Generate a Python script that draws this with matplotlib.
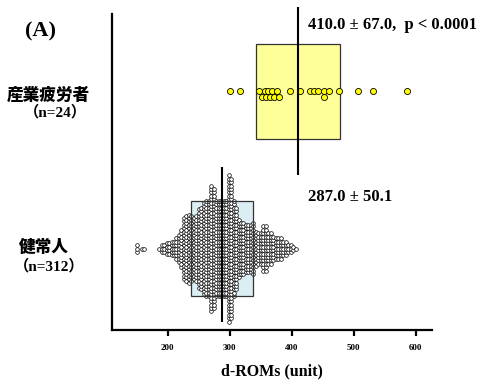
import matplotlib
matplotlib.use("Agg")
import matplotlib.pyplot as plt
import numpy as np
from matplotlib.patches import Rectangle

# ---------------------------------------------------------------------------
# Data
# ---------------------------------------------------------------------------
GROUP_LABELS = ["産業疲労者", "健常人"]
GROUP_N = ["（n=24）", "（n=312）"]
MEANS = [410.0, 287.0]
SDS = [67.0, 50.1]
STAT_TEXT = ["410.0 ± 67.0,  p < 0.0001", "287.0 ± 50.1"]

# individual values, 産業疲労者
fatigue_vals = [300, 316, 347, 352, 356, 359, 362, 365, 368, 372, 376, 380,
                397, 413, 429, 435, 442, 452, 452, 460, 476, 506, 531, 585]

# dot-plot columns, 健常人 (bin centre, dots in column)
healthy_bins = [150, 158, 162, 186, 190, 194, 198, 202, 206, 210, 214, 218,
                222, 226, 230, 234, 238, 242, 246, 250, 254, 258, 262, 266,
                270, 274, 278, 282, 286, 290, 294, 298, 302, 306, 310, 314,
                318, 322, 326, 330, 334, 338, 342, 346, 350, 354, 358, 362,
                366, 370, 374, 378, 382, 386, 390, 394, 398, 402, 406]
healthy_counts = [3, 1, 1, 1, 3, 3, 4, 4, 5, 5, 7, 9,
                  12, 19, 20, 21, 20, 19, 20, 24, 25, 28, 29, 29,
                  38, 36, 29, 29, 29, 29, 29, 44, 42, 29, 25, 18,
                  16, 16, 15, 15, 15, 16, 11, 10, 10, 14, 14, 10,
                  10, 8, 7, 7, 7, 5, 5, 3, 3, 2, 1]

X_TICKS = [200, 300, 400, 500, 600]
X_LABEL = "d-ROMs (unit)"

# ---------------------------------------------------------------------------
# Style
# ---------------------------------------------------------------------------
W, H = 481, 381
DPI = 100
SERIF = ["Liberation Serif", "Noto Sans CJK JP"]
CJK = ["Noto Sans CJK JP", "DejaVu Sans"]
YELLOW_BOX = "#ffff99"
BLUE_BOX = "#daeef3"
DOT_YELLOW = "#ffff00"

# y axis runs in pixels above the bottom spine
Y_CENTER = [239, 81.5]
BOX_HALF = 47.5


def swarm_rows(vals, gap_units):
    """place points on rows 0, -1, +1, ... avoiding horizontal collisions"""
    rows = {}
    out = []
    for v in sorted(vals):
        for r in [0, -1, 1, -2, 2, -3, 3]:
            if all(abs(v - u) >= gap_units for u in rows.get(r, [])):
                rows.setdefault(r, []).append(v)
                out.append((v, r))
                break
    return out


fig = plt.figure(figsize=(W / DPI, H / DPI), dpi=DPI)
ax = fig.add_axes([112 / W, 51 / H, 320 / W, 316 / H])
ax.set_xlim(110, 626)
ax.set_ylim(0, 316)
px_per_unit = 320 / 516

for s in ["top", "right"]:
    ax.spines[s].set_visible(False)
for s in ["left", "bottom"]:
    ax.spines[s].set_linewidth(1.6)
ax.set_yticks([])
ax.set_xticks(X_TICKS)
ax.tick_params(axis="x", direction="out", length=4, width=1.6, pad=6)
for lab in ax.get_xticklabels():
    lab.set_family(SERIF)
    lab.set_fontsize(6.5)
    lab.set_fontweight("bold")
ax.set_xlabel(X_LABEL, family=SERIF, fontsize=11.5, fontweight="bold", labelpad=8)

# boxes: mean +/- SD
for m, sd, yc, col in zip(MEANS, SDS, Y_CENTER, [YELLOW_BOX, BLUE_BOX]):
    ax.add_patch(Rectangle((m - sd, yc - BOX_HALF), 2 * sd, 2 * BOX_HALF,
                           facecolor=col, edgecolor="none", zorder=1))
    ax.add_patch(Rectangle((m - sd, yc - BOX_HALF), 2 * sd, 2 * BOX_HALF,
                           facecolor="none", edgecolor="#333333", lw=0.9, zorder=4))

# healthy dot plot
pitch = 3.4
hx, hy = [], []
for b, c in zip(healthy_bins, healthy_counts):
    offs = (np.arange(c) - (c - 1) / 2) * pitch
    hx.extend([b] * c)
    hy.extend(Y_CENTER[1] + offs)
ax.scatter(hx, hy, s=7, facecolor="white", edgecolor="black",
           linewidth=0.5, zorder=3)

# fatigue swarm
placed = swarm_rows(fatigue_vals, 3.6 / px_per_unit)
fx = [v for v, r in placed]
fy = [Y_CENTER[0] + r * 6.0 for v, r in placed]
ax.scatter(fx, fy, s=19, facecolor=DOT_YELLOW, edgecolor="black",
           linewidth=0.6, zorder=5)

# mean lines
ax.plot([MEANS[0]] * 2, [155, 323], color="black", lw=1.5, zorder=6,
        clip_on=False, solid_capstyle="butt")
ax.plot([MEANS[1]] * 2, [8, 163], color="black", lw=1.5, zorder=6,
        clip_on=False, solid_capstyle="butt")

# stats text
fig.text(308 / W, 1 - 25 / H, STAT_TEXT[0], family=SERIF, fontsize=12,
         fontweight="bold", ha="left", va="center")
fig.text(308 / W, 1 - 197 / H, STAT_TEXT[1], family=SERIF, fontsize=12,
         fontweight="bold", ha="left", va="center")

# panel label and group labels
fig.text(40 / W, 1 - 31 / H, "(A)", family=SERIF, fontsize=16,
         fontweight="bold", ha="center", va="center")
fig.text(48 / W, 1 - 95 / H, GROUP_LABELS[0], family=CJK, fontsize=12,
         fontweight="heavy", ha="center", va="center")
fig.text(55 / W, 1 - 112 / H, GROUP_N[0], family=SERIF, fontsize=11,
         fontweight="bold", ha="center", va="center")
fig.text(44 / W, 1 - 247 / H, GROUP_LABELS[1], family=CJK, fontsize=12,
         fontweight="heavy", ha="center", va="center")
fig.text(49 / W, 1 - 266 / H, GROUP_N[1], family=SERIF, fontsize=11,
         fontweight="bold", ha="center", va="center")

fig.savefig("out.png", dpi=DPI)
